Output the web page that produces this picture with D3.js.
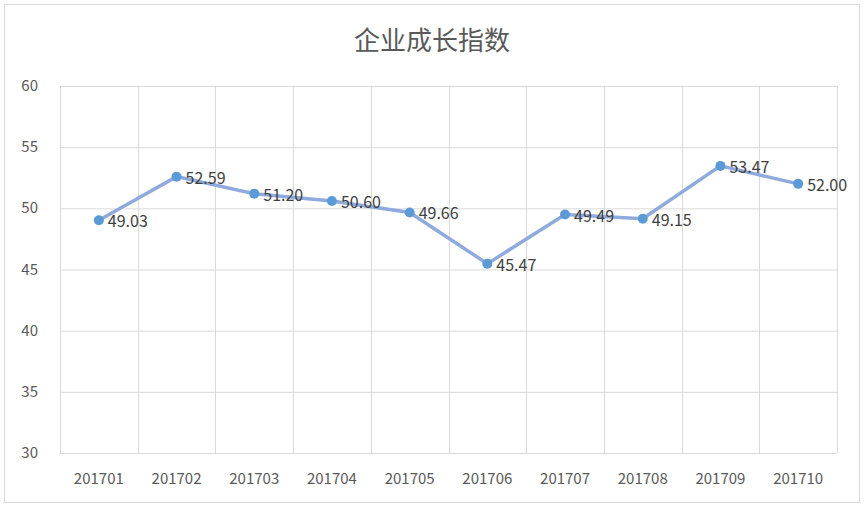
<!DOCTYPE html>
<html><head><meta charset="utf-8">
<script src="https://cdn.jsdelivr.net/npm/d3@7/dist/d3.min.js"></script>
<style>body{margin:0;background:#fff}</style></head>
<body><svg id="c" width="865" height="509"></svg>
<script>
const categories=["201701","201702","201703","201704","201705","201706","201707","201708","201709","201710"];
const values=[49.03,52.59,51.20,50.60,49.66,45.47,49.49,49.15,53.47,52.00];
const yTicks=[30,35,40,45,50,55,60];
const svg=d3.select("#c");
const font="'Noto Sans CJK SC', 'DejaVu Sans', sans-serif";
svg.append("rect").attr("x",4.5).attr("y",4.5).attr("width",855).attr("height",498).attr("fill","#fff").attr("stroke","#d9d9d9");
const L=60,R=837,T=86,B=453;
const x=d3.scaleBand().domain(categories).range([L,R]);
const y=d3.scaleLinear().domain([30,60]).range([B,T]);
const g=svg.append("g");
g.selectAll(".h").data(yTicks).enter().append("line").attr("x1",L).attr("x2",R).attr("y1",d=>y(d)+0.5).attr("y2",d=>y(d)+0.5).attr("stroke","#d9d9d9");
const vb=categories.map(c=>x(c)).concat([R]);
g.selectAll(".v").data(vb).enter().append("line").attr("x1",d=>Math.round(d)+0.5).attr("x2",d=>Math.round(d)+0.5).attr("y1",T).attr("y2",B).attr("stroke","#d9d9d9");
g.selectAll(".yt").data(yTicks).enter().append("text").attr("x",L-22).attr("y",d=>y(d)+5).attr("text-anchor","end").attr("font-family",font).attr("font-size",15).attr("fill","#595959").text(d=>d);
g.selectAll(".xt").data(categories).enter().append("text").attr("x",d=>x(d)+x.bandwidth()/2).attr("y",B+31).attr("text-anchor","middle").attr("font-family",font).attr("font-size",15).attr("fill","#595959").text(d=>d);
svg.append("text").attr("x",432).attr("y",50).attr("text-anchor","middle").attr("font-family",font).attr("font-size",26).attr("fill","#595959").text("企业成长指数");
const cx=(d,i)=>x(categories[i])+x.bandwidth()/2;
svg.append("path").datum(values).attr("d",d3.line().x(cx).y(d=>y(d))).attr("fill","none").attr("stroke","#8faadc").attr("stroke-width",3.5);
svg.selectAll(".m").data(values).enter().append("circle").attr("cx",cx).attr("cy",d=>y(d)).attr("r",5).attr("fill","#5b9bd5");
svg.selectAll(".lb").data(values).enter().append("text").attr("x",(d,i)=>cx(d,i)+9).attr("y",d=>y(d)+7).attr("font-family",font).attr("font-size",16).attr("fill","#404040").text(d=>d.toFixed(2));
</script></body></html>
